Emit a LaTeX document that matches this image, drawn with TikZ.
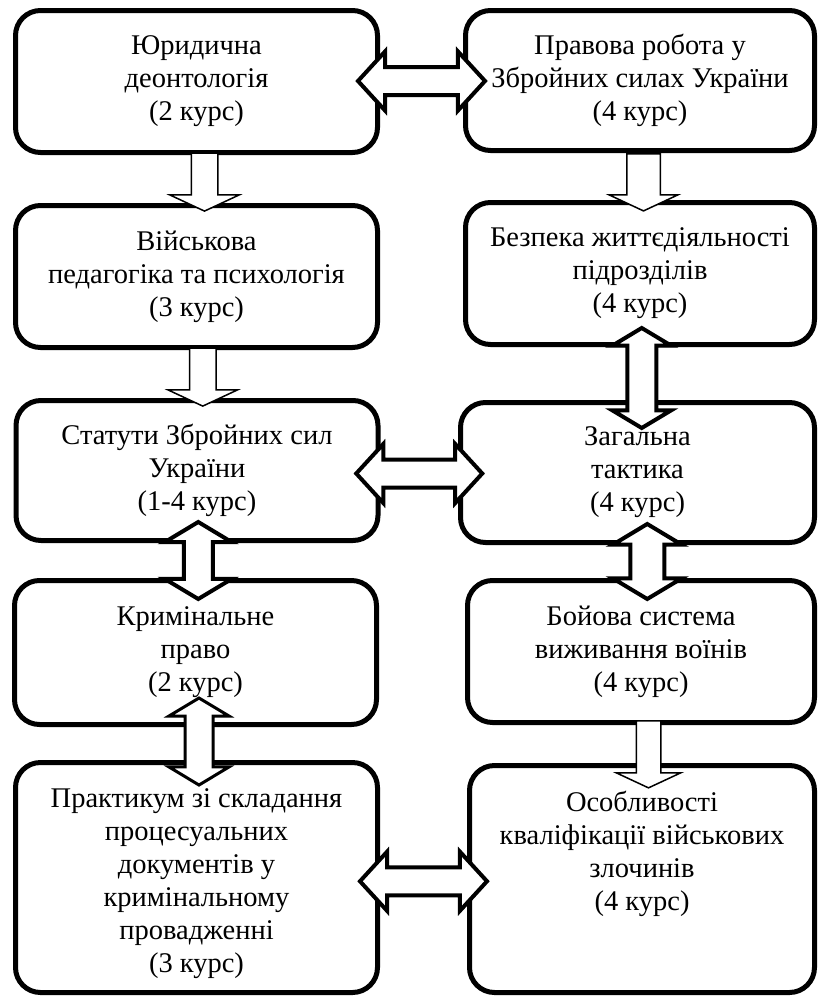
\documentclass[tikz,border=0pt]{standalone}
\usepackage{fontspec}
\setmainfont{Liberation Serif}
\usetikzlibrary{shapes.arrows,calc}

\begin{document}
\begin{tikzpicture}[x=1pt,y=1pt,
% common options for blocks:
block/.style = {draw, line width=5pt, rounded corners=25pt, align=center,
            minimum width=362pt, minimum height=142pt, inner sep=0,
            font=\fontsize{28.5}{33}\selectfont},
% common options for the block arrows:
twoway/.style = {double arrow, draw, fill=white, line width=4pt, inner xsep=0,
            inner ysep=12pt, double arrow head extend=15.5pt, double arrow tip angle=95},
updown/.style = {twoway, rotate=90, inner ysep=12.5pt,
            double arrow head extend=19pt, double arrow tip angle=118},
oneway/.style = {single arrow, draw, fill=white, line width=1.5pt, inner xsep=0,
            inner ysep=12.5pt, single arrow head extend=21.5pt, single arrow tip angle=130,
            minimum height=58pt, rotate=-90}]
\useasboundingbox (0,0) rectangle (820,-997);
\node[block] (A1) at (196.5,-81.5) {Юридична\\деонтологія\\(2 курс)};
\node[block] (A2) at (196.5,-276.5) {Військова\\педагогіка та психологія\\(3 курс)};
\node[block, minimum height=140pt] (A3) at (197,-470.5) {Статути Збройних сил\\України\\(1-4 курс)};
\node[block, minimum height=144pt] (A4) at (195.5,-652.5) {Кримінальне\\право\\(2 курс)};
\node[block, minimum height=230pt, text height=197pt] (A5) at (196.5,-877.5) {Практикум зі складання\\процесуальних\\документів у\\кримінальному\\провадженні\\(3 курс)};
\node[block, minimum width=349pt, minimum height=140pt] (B1) at (640,-80.5) {Правова робота у\\Збройних силах України\\(4 курс)};
\node[block, minimum width=349pt] (B2) at (640,-273.5) {Безпека життєдіяльності\\підрозділів\\(4 курс)};
\node[block, minimum width=354pt, minimum height=140pt] (B3) at (637.5,-472.5) {Загальна\\тактика\\(4 курс)};
\node[block, minimum width=347pt] (B4) at (641,-651.5) {Бойова система\\виживання воїнів\\(4 курс)};
\node[block, minimum width=345pt, minimum height=227pt, text depth=56pt] (B5) at (642,-879) {Особливості\\кваліфікації військових\\злочинів\\(4 курс)};
% links between the two columns
\node[twoway, minimum height=127pt] (A1B1) at ($(A1.east)!0.5!(B1.west)$) {};
\node[twoway, minimum height=126pt] (A3B3) at ($(A3.east)!0.5!(B3.west)+(0,-2)$) {};
\node[twoway, minimum height=127pt] (A5B5) at ($(A5.east)!0.5!(B5.west)+(0,-3)$) {};
% left column
\node[oneway] (A1A2) at ($(A1.south)!0.5!(A2.north)+(8,0)$) {};
\node[oneway] (A2A3) at ($(A2.south)!0.5!(A3.north)+(6,0)$) {};
\node[updown, minimum height=77pt] (A3A4) at ($(A3.south)!0.5!(A4.north)+(2,0)$) {};
\node[updown, minimum height=87pt, line width=3pt, double arrow head extend=16pt] (A4A5) at ($(A4.south)!0.5!(A5.north)+(3,2)$) {};
% right column
\node[oneway, minimum height=57pt, inner ysep=16pt, single arrow head extend=17.5pt] (B1B2) at ($(B1.south)!0.5!(B2.north)+(3.5,-2)$) {};
\node[updown, minimum height=100pt, double arrow head extend=15pt] (B2B3) at ($(B2.south)!0.5!(B3.north)+(3,-4.5)$) {};
\node[updown, minimum height=75pt, inner ysep=15pt, double arrow head extend=17.5pt] (B3B4) at ($(B3.south)!0.5!(B4.north)+(8,0)$) {};
\node[oneway, minimum height=67pt, inner ysep=11.5pt, single arrow head extend=20pt] (B4B5) at ($(B4.south)!0.5!(B5.north)+(7,-7.5)$) {};
\end{tikzpicture}
\end{document}
